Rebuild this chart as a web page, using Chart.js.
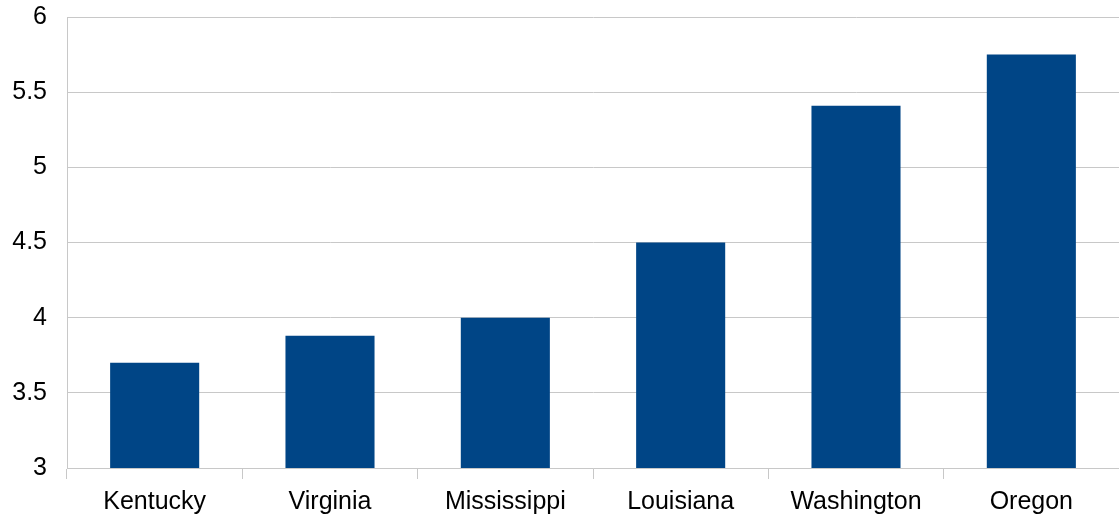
<!DOCTYPE html>
<html>
<head>
<meta charset="utf-8">
<script src="https://cdn.jsdelivr.net/npm/chart.js@4"></script>
<style>
  html, body { margin: 0; padding: 0; background: #fff; }
  #wrap { width: 1119px; height: 521px; }
</style>
</head>
<body>
<div id="wrap"><canvas id="c"></canvas></div>
<script>
var states = ['Kentucky', 'Virginia', 'Mississippi', 'Louisiana', 'Washington', 'Oregon'];
var values = [3.7, 3.88, 4.0, 4.5, 5.41, 5.75];
var yMin = 3, yMax = 6, yStep = 0.5;

Chart.defaults.font.family = '"Liberation Sans", Arial, sans-serif';
Chart.defaults.font.size = 25;
Chart.defaults.color = '#000';

var ctx = document.getElementById('c').getContext('2d');
var chart = new Chart(ctx, {
    type: 'bar',
    data: {
        labels: states,
        datasets: [{
            data: values,
            backgroundColor: '#004586',
            borderWidth: 0,
            categoryPercentage: 1,
            barPercentage: 0.508
        }]
    },
    options: {
        responsive: true,
        maintainAspectRatio: false,
        animation: false,
        layout: { padding: { top: 17, right: 0, left: 0, bottom: 0 } },
        plugins: { legend: { display: false }, tooltip: { enabled: false } },
        scales: {
            x: {
                offset: true,
                grid: { offset: true, drawOnChartArea: false, drawTicks: true, tickLength: 11, color: '#c8c8c8' },
                border: { color: '#c8c8c8' },
                ticks: { padding: 8 },
                afterFit: function (s) { s.height = 53; }
            },
            y: {
                min: yMin,
                max: yMax,
                ticks: {
                    stepSize: yStep,
                    padding: 20,
                    callback: function (v) { return String(v); }
                },
                grid: { drawTicks: false, color: '#c8c8c8' },
                border: { color: '#c8c8c8' },
                afterFit: function (s) {
                    s.width = 67;
                    // let layout padding alone decide the top of the plot
                    s.paddingTop = 0;
                    s.paddingBottom = 0;
                }
            }
        }
    }
});
</script>
</body>
</html>
